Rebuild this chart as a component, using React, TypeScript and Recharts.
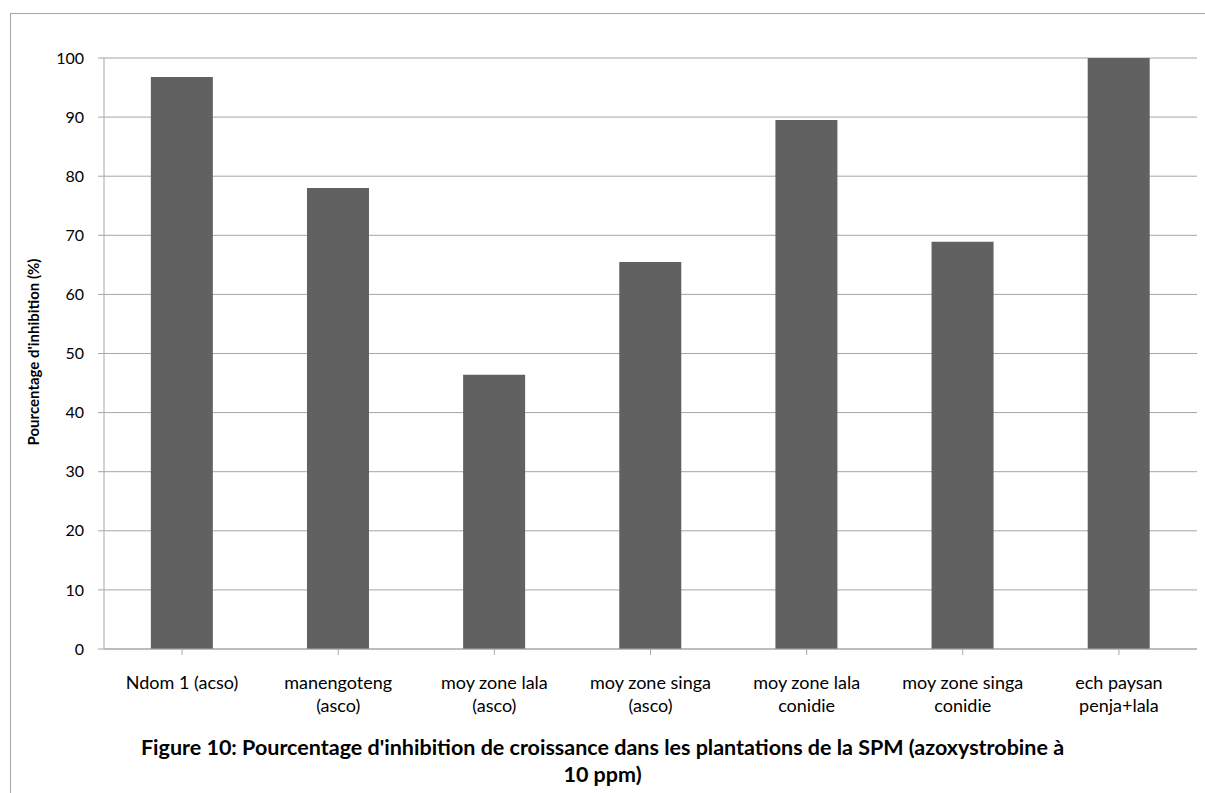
import { BarChart, Bar, XAxis, YAxis, CartesianGrid } from 'recharts';

const categories = [
  'Ndom 1 (acso)',
  'manengoteng\n(asco)',
  'moy zone lala\n(asco)',
  'moy zone singa\n(asco)',
  'moy zone lala\nconidie',
  'moy zone singa\nconidie',
  'ech paysan\npenja+lala',
];
const inhibition = [96.8, 78.0, 46.4, 65.5, 89.5, 68.9, 100];
const yTicks = [0, 10, 20, 30, 40, 50, 60, 70, 80, 90, 100];

const data = categories.map((name, i) => ({ name, value: inhibition[i] }));

const FONT = 'Lato, "Open Sans", sans-serif';

function CategoryTick({ x, y, payload }: any) {
  const lines = String(payload.value).split('\n');
  return (
    <text x={x} y={y + 32} textAnchor="middle" fill="#000" fontSize={18} fontFamily={FONT}>
      {lines.map((line, i) => (
        <tspan key={i} x={x} dy={i === 0 ? 0 : 23}>
          {line}
        </tspan>
      ))}
    </text>
  );
}

export default function App() {
  return (
    <div
      style={{
        position: 'fixed',
        left: 0,
        top: 0,
        width: 1205,
        height: 793,
        background: '#fff',
        fontFamily: FONT,
      }}
    >
      <div
        style={{
          position: 'absolute',
          left: 10,
          top: 13,
          width: 1205,
          height: 800,
          borderLeft: '1px solid #a6a6a6',
          borderTop: '1px solid #a6a6a6',
        }}
      />
      <div style={{ position: 'absolute', left: 0, top: 0 }}>
        <BarChart
          width={1205}
          height={793}
          data={data}
          margin={{ top: 58, right: 8, bottom: 84, left: 38 }}
          barCategoryGap="30%"
        >
          <CartesianGrid vertical={false} stroke="#a6a6a6" strokeWidth={1} />
          <XAxis
            dataKey="name"
            interval={0}
            height={60}
            stroke="#a6a6a6"
            tickLine={{ stroke: '#a6a6a6' }}
            tickSize={6}
            tick={<CategoryTick />}
          />
          <YAxis
            domain={[0, 100]}
            ticks={yTicks}
            interval={0}
            width={66}
            stroke="#a6a6a6"
            tickSize={6}
            tickMargin={14}
            tick={{ fill: '#000', fontSize: 16, fontFamily: FONT }}
          />
          <Bar dataKey="value" fill="#616161" isAnimationActive={false} />
        </BarChart>
      </div>
      <div
        style={{
          position: 'absolute',
          left: 33,
          top: 352,
          transform: 'translate(-50%, -50%) rotate(-90deg)',
          whiteSpace: 'nowrap',
          fontWeight: 700,
          fontSize: 15,
          color: '#000',
        }}
      >
        Pourcentage d'inhibition (%)
      </div>
      <div
        style={{
          position: 'absolute',
          left: 0,
          top: 734,
          width: 1205,
          textAlign: 'center',
          fontWeight: 700,
          fontSize: 21.5,
          lineHeight: '27px',
          color: '#000',
        }}
      >
        Figure 10: Pourcentage d'inhibition de croissance dans les plantations de la SPM (azoxystrobine à
        <br />
        10 ppm)
      </div>
    </div>
  );
}
